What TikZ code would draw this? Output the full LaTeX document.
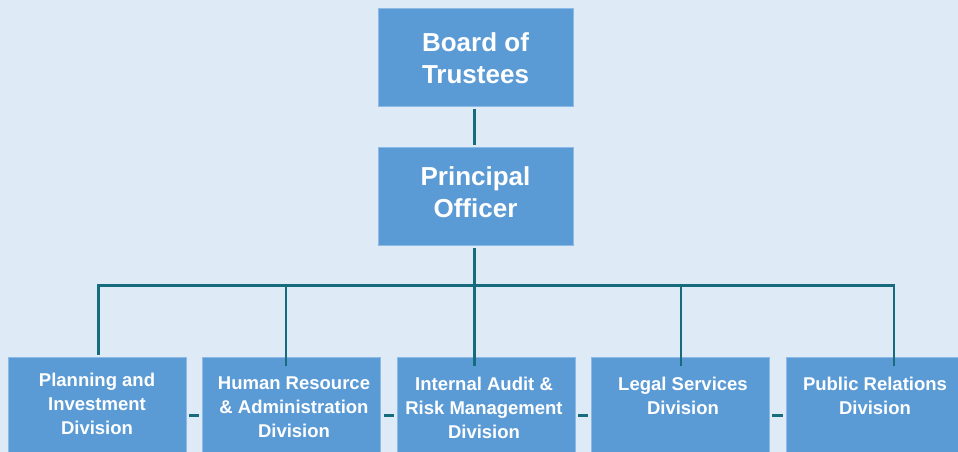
\documentclass[tikz,border=0pt]{standalone}
\usepackage{fontspec}
\setmainfont{Liberation Sans}
\definecolor{bg}{RGB}{222,234,245}
\definecolor{boxc}{RGB}{91,155,213}
\definecolor{boxe}{RGB}{140,186,228}
\definecolor{linec}{RGB}{22,108,124}
\begin{document}
\begin{tikzpicture}[x=1pt,y=-1pt,
  box/.style={rectangle, fill=boxc, draw=boxe, line width=0.6pt, inner sep=0pt},
  topbox/.style={box, minimum width=195pt, minimum height=98pt},
  divbox/.style={box, minimum width=178pt, minimum height=110pt},
  toplbl/.style={text=white, align=center, inner sep=0pt, anchor=north, font=\fontsize{26}{32}\selectfont\bfseries},
  divlbl/.style={text=white, align=center, inner sep=0pt, anchor=north, font=\fontsize{18.5}{24}\selectfont\bfseries},
  conn/.style={draw=linec, line width=2.6pt}]
\fill[bg] (0,0) rectangle (958,452);
\useasboundingbox (0,0) rectangle (958,452);
\clip (0,0) rectangle (958,452);

\node[topbox] (board) at (475.5,57.5) {};
\node[topbox] (principal) at (475.5,196) {};
\node[divbox] (plan) at (97,412) {};
\node[divbox] (hr) at (291.5,412) {};
\node[divbox] (ia) at (486,412) {};
\node[divbox] (legal) at (680,412) {};
\node[divbox] (pr) at (875,412) {};

\node[toplbl] (tboard) at (475.5,32) {Board of\\Trustees};
\node[toplbl] (tprincipal) at (475.5,166) {Principal\\Officer};
\node[divlbl] (tplan) at (97,373) {Planning and\\Investment\\Division};
\node[divlbl] (thr) at (294,377) {Human Resource\\\& Administration\\Division};
\node[divlbl] (tia) at (484,377) {Internal Audit \&\\Risk Management\\Division};
\node[divlbl] (tlegal) at (683,377) {Legal Services\\Division};
\node[divlbl] (tpr) at (875,377) {Public Relations\\Division};

\coordinate (bus) at (474.5,285.5);
\coordinate (busL) at (98.5,285.5);
\coordinate (busR) at (894,285.5);
\coordinate (d1) at (98.5,355);
\coordinate (d2) at (286,366);
\coordinate (d3) at (474.5,366);
\coordinate (d4) at (681,366);
\coordinate (d5) at (894,366);
\coordinate (dashy) at (0,415.5);

\draw[conn] ([yshift=-2pt]board.south -| bus) -- ([yshift=2pt]principal.north -| bus);
\draw[conn] ([yshift=-3pt]principal.south -| bus) -- (d3);
\draw[conn] (d1) -- (busL) -- (busR) -- (d5);
\draw[conn] (d2) -- (d2 |- bus);
\draw[conn] (d4) -- (d4 |- bus);

\draw[conn] ([xshift=3pt]plan.east |- dashy) -- ([xshift=-3pt]hr.west |- dashy);
\draw[conn] ([xshift=3pt]hr.east |- dashy) -- ([xshift=-3pt]ia.west |- dashy);
\draw[conn] ([xshift=3pt]ia.east |- dashy) -- ([xshift=-3pt]legal.west |- dashy);
\draw[conn] ([xshift=3pt]legal.east |- dashy) -- ([xshift=-3pt]pr.west |- dashy);
\end{tikzpicture}
\end{document}
